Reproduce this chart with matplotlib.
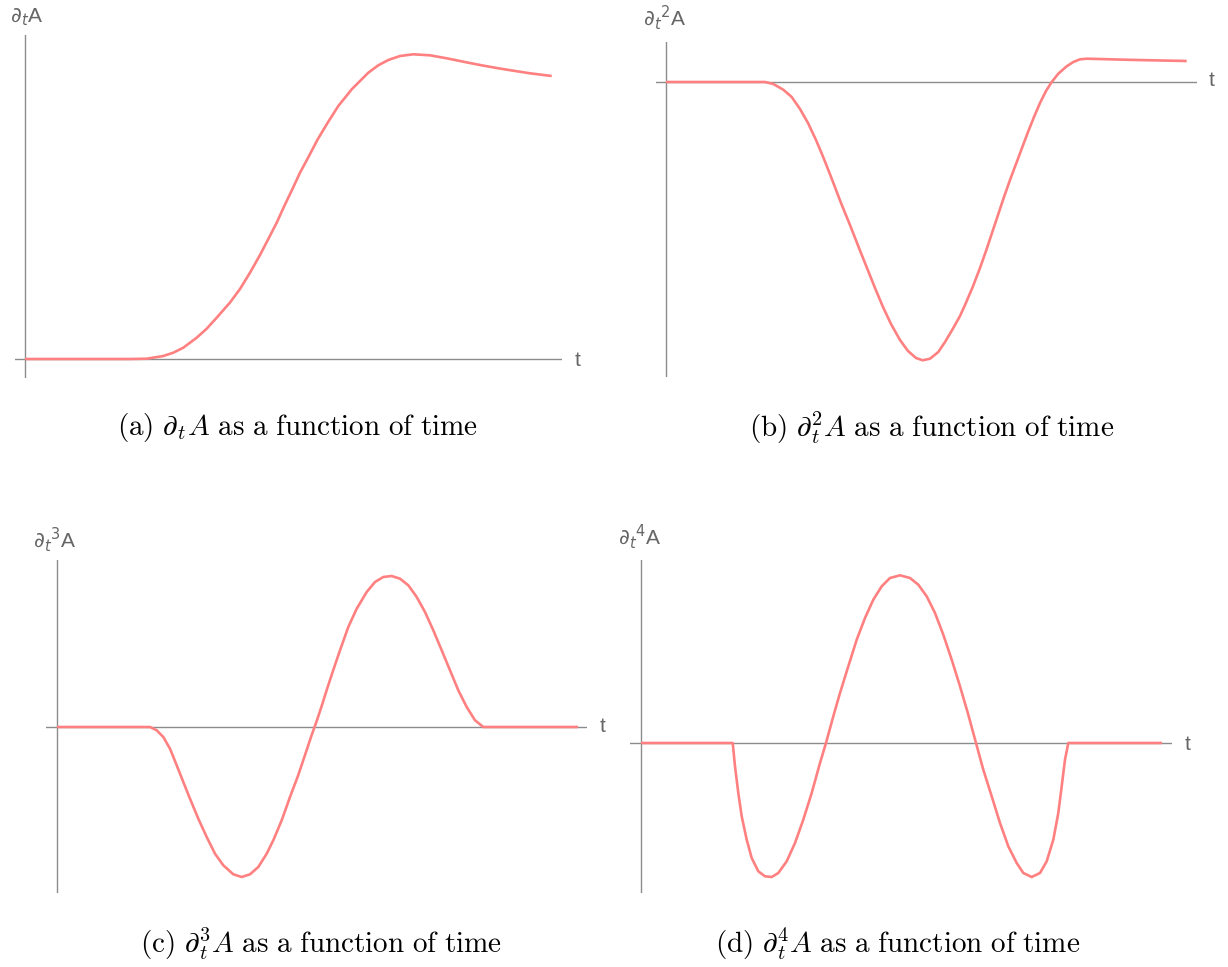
import matplotlib
matplotlib.use("Agg")
import matplotlib.pyplot as plt

W, H = 1228, 967

# --- data (t, value) ---
t_a = [0, 1.05, 1.217, 1.383, 1.483, 1.583, 1.717, 1.817, 1.917, 2.05, 2.15, 2.25, 2.35,
       2.433, 2.517, 2.593, 2.673, 2.75, 2.84, 2.927, 3.027, 3.133, 3.2, 3.267, 3.35,
       3.433, 3.533, 3.633, 3.75, 3.883, 4.05, 4.217, 4.383, 4.55, 4.717, 4.883, 5.05, 5.267]
v_a = [0, 0, 0.003, 0.03, 0.063, 0.113, 0.213, 0.303, 0.413, 0.565, 0.70, 0.863, 1.04,
       1.2, 1.363, 1.53, 1.697, 1.863, 2.03, 2.197, 2.363, 2.53, 2.613, 2.697, 2.78,
       2.863, 2.937, 2.99, 3.03, 3.047, 3.037, 3.007, 2.973, 2.94, 2.91, 2.883, 2.857, 2.83]

t_b = [0, 0.84, 0.99, 1.073, 1.173, 1.257, 1.34, 1.42, 1.50, 1.58, 1.67, 1.75, 1.84,
       1.93, 2.01, 2.09, 2.17, 2.25, 2.34, 2.42, 2.50, 2.567, 2.64, 2.723, 2.79, 2.873,
       2.94, 2.99, 3.067, 3.14, 3.20, 3.26, 3.32, 3.38, 3.44, 3.50, 3.56, 3.62, 3.68,
       3.74, 3.80, 3.857, 3.923, 4.007, 4.073, 4.14, 4.207, 4.707, 5.207]
v_b = [0, 0, 0, -0.02, -0.077, -0.15, -0.27, -0.41, -0.58, -0.77, -1.00, -1.21, -1.43,
       -1.66, -1.86, -2.06, -2.25, -2.42, -2.58, -2.69, -2.76, -2.783, -2.767, -2.70,
       -2.60, -2.46, -2.34, -2.23, -2.05, -1.86, -1.69, -1.51, -1.33, -1.15, -0.98,
       -0.82, -0.66, -0.50, -0.35, -0.21, -0.09, 0.0, 0.083, 0.157, 0.2, 0.227, 0.233,
       0.22, 0.21]

t_c = [0, 0.93, 0.997, 1.063, 1.13, 1.197, 1.263, 1.33, 1.413, 1.497, 1.58, 1.663, 1.763,
       1.847, 1.93, 2.013, 2.097, 2.163, 2.247, 2.33, 2.413, 2.497, 2.547, 2.597, 2.647,
       2.697, 2.763, 2.83, 2.913, 2.997, 3.097, 3.18, 3.263, 3.347, 3.43, 3.513, 3.597,
       3.68, 3.763, 3.847, 3.93, 4.013, 4.097, 4.18, 4.263, 5.21]
v_c = [0, 0, -0.033, -0.1, -0.217, -0.383, -0.55, -0.717, -0.917, -1.1, -1.267, -1.383,
       -1.473, -1.5, -1.473, -1.4, -1.267, -1.133, -0.933, -0.7, -0.48, -0.23, -0.08, 0.06,
       0.21, 0.37, 0.57, 0.767, 1.0, 1.183, 1.35, 1.45, 1.5, 1.51, 1.483, 1.417, 1.3,
       1.15, 0.967, 0.767, 0.567, 0.367, 0.2, 0.067, 0, 0]

t_d = [0, 0.917, 0.94, 0.973, 1.007, 1.057, 1.107, 1.173, 1.24, 1.307, 1.373, 1.457, 1.54,
       1.623, 1.707, 1.79, 1.85, 1.923, 1.99, 2.073, 2.157, 2.24, 2.323, 2.407, 2.49, 2.59,
       2.69, 2.773, 2.857, 2.94, 3.023, 3.107, 3.19, 3.273, 3.35, 3.423, 3.507, 3.59,
       3.673, 3.757, 3.823, 3.907, 3.99, 4.057, 4.123, 4.173, 4.207, 4.24, 4.273, 5.21]
v_d = [0, 0, -0.233, -0.5, -0.733, -0.967, -1.15, -1.283, -1.333, -1.34, -1.3, -1.183,
       -1.0, -0.767, -0.5, -0.2, 0, 0.267, 0.5, 0.767, 1.033, 1.25, 1.433, 1.567, 1.65,
       1.677, 1.65, 1.583, 1.467, 1.3, 1.083, 0.833, 0.567, 0.283, 0, -0.267, -0.533,
       -0.8, -1.033, -1.2, -1.3, -1.34, -1.3, -1.183, -0.967, -0.7, -0.433, -0.167, 0, 0]

ylabels = [r"$\partial_t$A", r"$\partial_t{}^2$A", r"$\partial_t{}^3$A", r"$\partial_t{}^4$A"]
captions = [r"$\mathrm{(a)\ }\partial_t A\mathrm{\ as\ a\ function\ of\ time}$",
            r"$\mathrm{(b)\ }\partial_t^2 A\mathrm{\ as\ a\ function\ of\ time}$",
            r"$\mathrm{(c)\ }\partial_t^3 A\mathrm{\ as\ a\ function\ of\ time}$",
            r"$\mathrm{(d)\ }\partial_t^4 A\mathrm{\ as\ a\ function\ of\ time}$"]

# layout in pixels: axes box (left, right, top, bottom), limits, label spots
panels = [
    dict(t=t_a, v=v_a, box=(15, 562, 35, 378), xlim=(-0.10, 5.37), ylim=(-0.19, 3.24),
         ylab=(10, 17), tlab=(578, 360), cap=(297, 428)),
    dict(t=t_b, v=v_b, box=(656, 1197, 42, 377), xlim=(-0.10, 5.31), ylim=(-2.95, 0.40),
         ylab=(643, 18), tlab=(1212, 81), cap=(932, 428)),
    dict(t=t_c, v=v_c, box=(46, 587, 560, 893), xlim=(-0.11, 5.30), ylim=(-1.66, 1.67),
         ylab=(33, 540), tlab=(603, 727), cap=(321, 944)),
    dict(t=t_d, v=v_d, box=(630, 1172, 560, 893), xlim=(-0.11, 5.31), ylim=(-1.50, 1.83),
         ylab=(618, 537), tlab=(1188, 744), cap=(898, 944)),
]

line_col = "#ff8080"
axis_col = "#8c8c8c"
lab_col = "#666666"

fig = plt.figure(figsize=(W / 100, H / 100), dpi=100)

for i, p in enumerate(panels):
    l, r, top, bot = p["box"]
    ax = fig.add_axes([l / W, 1 - bot / H, (r - l) / W, (bot - top) / H])
    ax.set_xlim(*p["xlim"])
    ax.set_ylim(*p["ylim"])
    ax.axis("off")
    ax.axhline(0, color=axis_col, lw=1.0, zorder=1)
    ax.axvline(0, color=axis_col, lw=1.0, zorder=1)
    ax.plot(p["t"], p["v"], color=line_col, lw=1.9, zorder=2,
            solid_capstyle="butt", solid_joinstyle="round")

    x, y = p["ylab"]
    fig.text(x / W, 1 - y / H, ylabels[i], color=lab_col, fontsize=15,
             family="Liberation Sans", math_fontfamily="dejavusans", ha="left", va="center")
    x, y = p["tlab"]
    fig.text(x / W, 1 - y / H, "t", color=lab_col, fontsize=15,
             family="Liberation Sans", ha="center", va="center")
    x, y = p["cap"]
    fig.text(x / W, 1 - y / H, captions[i], color="black", fontsize=21,
             math_fontfamily="cm", ha="center", va="center")

fig.savefig("out.png", dpi=100)
